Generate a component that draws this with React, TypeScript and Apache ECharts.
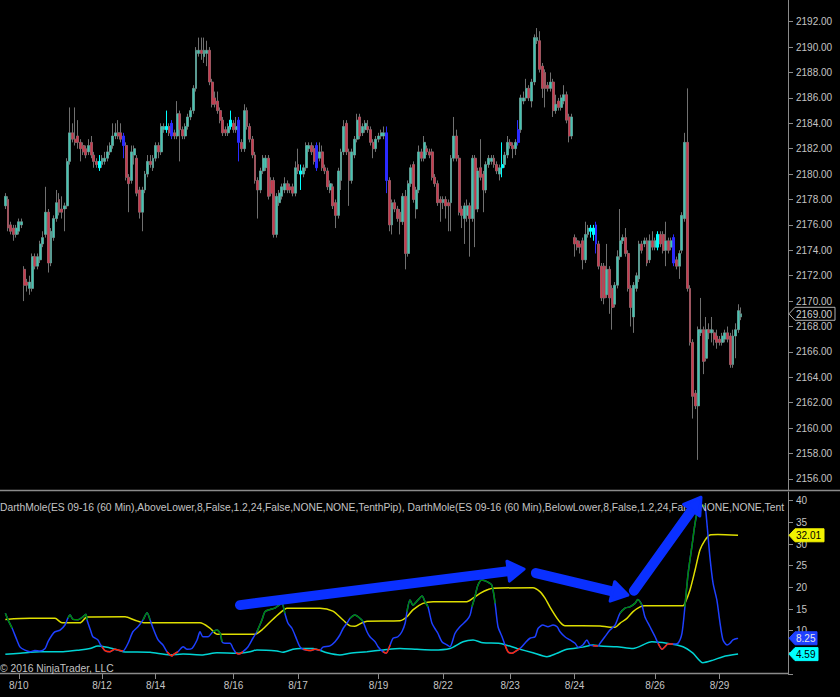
import React, { useEffect, useRef } from "react";
import * as echarts from "echarts";

// ---- price bars: [open, close, low, high] (ES 09-16, 60 min) ----
const candles: number[][] = [
  [2177.5, 2178.25, 2177.25, 2178.5], [2178.0, 2175.75, 2175.5, 2178.25], [2176.0, 2175.5, 2175.25, 2176.25],
  [2175.75, 2175.25, 2174.75, 2176.0], [2175.25, 2175.75, 2175.0, 2176.0], [2175.5, 2176.25, 2175.25, 2176.5],
  [2176.0, 2176.25, 2175.75, 2176.5], [2172.5, 2171.25, 2170.0, 2172.75], [2171.5, 2171.25, 2170.75, 2171.75],
  [2171.0, 2171.5, 2170.5, 2172.0], [2171.0, 2173.5, 2170.75, 2173.75], [2173.5, 2172.75, 2172.5, 2173.75],
  [2172.75, 2173.5, 2172.5, 2173.75], [2173.25, 2174.5, 2173.0, 2174.75], [2174.5, 2175.0, 2174.25, 2175.5],
  [2175.25, 2177.0, 2175.0, 2179.0], [2177.0, 2173.0, 2172.25, 2177.25], [2173.0, 2175.5, 2172.75, 2175.75],
  [2175.0, 2176.5, 2174.75, 2176.75], [2176.5, 2177.75, 2176.25, 2178.75], [2178.0, 2177.0, 2176.75, 2178.5],
  [2177.25, 2177.0, 2176.5, 2178.25], [2177.25, 2177.5, 2175.5, 2177.75], [2177.5, 2181.0, 2177.25, 2181.25],
  [2181.0, 2183.25, 2180.75, 2185.25], [2183.25, 2182.75, 2182.5, 2184.0], [2182.75, 2182.5, 2182.25, 2185.25],
  [2183.0, 2182.5, 2182.0, 2184.25], [2182.5, 2182.0, 2181.0, 2182.75], [2182.25, 2181.75, 2181.5, 2182.5],
  [2182.0, 2181.5, 2181.25, 2182.25], [2181.75, 2182.25, 2181.5, 2182.75], [2182.5, 2181.5, 2181.25, 2183.0],
  [2181.5, 2181.0, 2180.5, 2181.75], [2181.0, 2180.75, 2180.5, 2181.25], [2180.5, 2181.0, 2180.25, 2181.5],
  [2180.75, 2181.25, 2180.5, 2181.5], [2181.0, 2181.25, 2180.75, 2181.75], [2181.25, 2181.75, 2181.0, 2182.25],
  [2181.75, 2182.25, 2181.5, 2182.5], [2182.25, 2183.0, 2182.0, 2184.0], [2183.0, 2183.25, 2182.75, 2184.0],
  [2183.25, 2183.0, 2182.75, 2184.25], [2183.25, 2182.75, 2182.5, 2184.0], [2183.0, 2182.25, 2181.25, 2183.25],
  [2182.25, 2179.75, 2179.5, 2182.5], [2179.75, 2179.25, 2177.0, 2180.0], [2179.5, 2181.75, 2179.25, 2182.25],
  [2181.5, 2182.0, 2180.75, 2182.25], [2181.25, 2178.5, 2178.25, 2181.5], [2178.75, 2177.0, 2176.5, 2179.0],
  [2177.0, 2178.75, 2175.5, 2179.0], [2178.75, 2180.0, 2178.5, 2180.25], [2180.0, 2181.0, 2179.75, 2181.5],
  [2181.0, 2180.75, 2180.5, 2181.5], [2180.5, 2181.25, 2180.25, 2181.5], [2181.25, 2182.25, 2181.0, 2182.5],
  [2182.25, 2181.75, 2181.25, 2182.5], [2181.75, 2183.75, 2181.5, 2184.0], [2183.5, 2183.75, 2183.25, 2184.0],
  [2183.5, 2183.75, 2183.25, 2185.0], [2183.75, 2183.25, 2183.0, 2184.0], [2184.0, 2183.0, 2182.75, 2184.25],
  [2183.25, 2183.0, 2182.75, 2183.5], [2183.0, 2184.75, 2182.75, 2185.75], [2184.75, 2183.5, 2181.0, 2185.0],
  [2183.5, 2183.0, 2182.75, 2183.75], [2183.0, 2183.75, 2182.75, 2184.0], [2183.75, 2184.5, 2183.5, 2184.75],
  [2184.5, 2185.0, 2184.25, 2185.25], [2185.0, 2186.75, 2184.75, 2187.0], [2186.75, 2189.75, 2186.5, 2190.0],
  [2189.5, 2189.75, 2189.25, 2190.75], [2189.75, 2189.5, 2189.0, 2190.75], [2189.25, 2189.75, 2188.75, 2190.75],
  [2189.5, 2189.75, 2188.5, 2190.5], [2189.75, 2187.25, 2187.0, 2190.0], [2187.25, 2185.5, 2185.25, 2187.5],
  [2186.0, 2185.5, 2185.25, 2186.5], [2185.75, 2185.0, 2184.75, 2186.5], [2185.0, 2184.25, 2184.0, 2185.25],
  [2184.25, 2183.25, 2183.0, 2184.5], [2183.5, 2183.25, 2183.0, 2183.75], [2183.25, 2183.75, 2183.0, 2184.0],
  [2183.75, 2184.25, 2183.5, 2185.0], [2184.0, 2183.5, 2183.25, 2184.25], [2183.5, 2183.75, 2183.25, 2184.5],
  [2184.25, 2182.5, 2181.0, 2184.5], [2182.5, 2182.0, 2181.75, 2182.75], [2182.0, 2185.0, 2181.75, 2185.5],
  [2185.0, 2183.75, 2183.5, 2185.25], [2183.75, 2182.75, 2182.5, 2184.0], [2182.75, 2181.5, 2181.25, 2183.0],
  [2181.5, 2179.5, 2179.25, 2181.75], [2179.5, 2178.75, 2176.5, 2179.75], [2178.75, 2180.25, 2178.5, 2180.5],
  [2180.25, 2181.25, 2180.0, 2181.5], [2180.5, 2181.25, 2180.25, 2181.5], [2181.25, 2178.25, 2178.0, 2181.5],
  [2179.5, 2178.5, 2178.25, 2179.75], [2179.5, 2175.25, 2175.0, 2179.75], [2175.25, 2178.25, 2175.0, 2178.5],
  [2177.75, 2178.5, 2177.5, 2178.75], [2178.25, 2179.0, 2178.0, 2179.25], [2178.75, 2179.25, 2178.5, 2179.75],
  [2179.25, 2178.75, 2178.5, 2179.5], [2179.0, 2178.75, 2178.5, 2179.25], [2179.0, 2178.5, 2178.25, 2179.25],
  [2178.5, 2180.5, 2178.25, 2181.0], [2180.75, 2180.25, 2180.0, 2182.0], [2180.0, 2180.25, 2178.75, 2180.75],
  [2180.0, 2180.5, 2179.75, 2180.75], [2180.5, 2182.25, 2180.25, 2182.5], [2182.0, 2182.25, 2181.75, 2182.5],
  [2182.25, 2181.75, 2181.5, 2182.5], [2182.0, 2181.0, 2180.75, 2182.25], [2182.25, 2180.5, 2180.25, 2182.5],
  [2181.25, 2181.75, 2181.0, 2182.5], [2181.75, 2180.5, 2180.25, 2182.25], [2180.5, 2180.25, 2180.0, 2180.75],
  [2180.25, 2179.0, 2178.75, 2180.5], [2178.75, 2179.25, 2178.5, 2179.5], [2179.0, 2177.5, 2177.25, 2179.25],
  [2177.75, 2176.75, 2175.75, 2178.0], [2176.75, 2180.25, 2176.5, 2180.5], [2179.5, 2181.75, 2178.75, 2182.0],
  [2181.75, 2183.75, 2181.5, 2184.25], [2184.0, 2181.75, 2181.5, 2184.25], [2181.75, 2179.5, 2177.5, 2182.0],
  [2179.5, 2181.75, 2179.25, 2182.0], [2181.5, 2182.75, 2181.25, 2183.0], [2182.75, 2184.25, 2182.5, 2184.75],
  [2184.5, 2183.0, 2182.75, 2184.75], [2183.25, 2183.75, 2183.0, 2184.0], [2183.5, 2184.0, 2183.25, 2184.25],
  [2183.75, 2183.5, 2183.25, 2184.25], [2183.5, 2182.5, 2182.25, 2183.75], [2182.5, 2182.0, 2181.25, 2182.75],
  [2182.0, 2182.75, 2181.75, 2183.0], [2182.75, 2183.0, 2182.5, 2183.25], [2183.0, 2183.25, 2182.75, 2183.5],
  [2183.0, 2183.25, 2182.75, 2183.75], [2183.25, 2179.5, 2178.5, 2183.75], [2179.5, 2176.0, 2175.5, 2179.75],
  [2176.0, 2177.75, 2175.25, 2178.0], [2177.75, 2177.25, 2177.0, 2178.0], [2177.25, 2176.5, 2176.25, 2177.5],
  [2177.0, 2176.25, 2175.25, 2177.25], [2176.25, 2178.25, 2176.0, 2178.5], [2178.25, 2173.75, 2172.5, 2178.75],
  [2173.75, 2179.25, 2173.5, 2179.5], [2179.25, 2180.5, 2179.0, 2180.75], [2180.75, 2178.0, 2177.75, 2181.0],
  [2177.25, 2178.75, 2176.5, 2179.0], [2178.75, 2181.75, 2178.5, 2182.25], [2181.75, 2181.25, 2181.0, 2182.0],
  [2181.25, 2182.5, 2181.0, 2183.0], [2182.0, 2181.75, 2181.5, 2182.25], [2181.75, 2181.5, 2181.25, 2182.0],
  [2181.75, 2179.75, 2179.5, 2182.0], [2179.75, 2179.25, 2179.0, 2180.0], [2179.25, 2177.75, 2177.5, 2179.5],
  [2178.0, 2177.75, 2176.25, 2178.25], [2177.75, 2178.0, 2177.25, 2178.25], [2178.0, 2177.5, 2176.5, 2178.25],
  [2177.75, 2177.5, 2175.5, 2178.0], [2177.75, 2181.25, 2175.5, 2181.5], [2181.25, 2183.0, 2181.0, 2184.5],
  [2183.0, 2181.25, 2181.0, 2183.5], [2181.25, 2177.0, 2176.75, 2181.5], [2177.25, 2176.75, 2175.75, 2177.5],
  [2176.5, 2177.5, 2174.5, 2177.75], [2176.75, 2177.5, 2176.25, 2178.0], [2177.5, 2176.5, 2173.5, 2177.75],
  [2176.5, 2181.25, 2176.25, 2181.5], [2181.25, 2177.25, 2174.25, 2181.5], [2177.25, 2180.25, 2177.0, 2180.5],
  [2180.5, 2179.75, 2179.5, 2182.75], [2180.0, 2178.75, 2177.0, 2180.25], [2178.75, 2180.75, 2178.5, 2181.0],
  [2180.75, 2181.25, 2180.5, 2181.5], [2181.0, 2181.25, 2180.75, 2181.5], [2181.25, 2180.75, 2180.5, 2181.5],
  [2180.75, 2180.25, 2180.0, 2181.0], [2180.0, 2180.5, 2179.5, 2180.75], [2180.5, 2180.75, 2179.75, 2182.5],
  [2180.75, 2181.5, 2180.5, 2181.75], [2181.5, 2182.5, 2181.25, 2183.0], [2182.5, 2182.25, 2182.0, 2182.75],
  [2182.25, 2182.0, 2181.25, 2182.5], [2182.0, 2182.5, 2181.5, 2182.75], [2182.5, 2183.5, 2182.25, 2184.25],
  [2183.5, 2186.0, 2183.25, 2186.25], [2185.75, 2186.0, 2185.5, 2186.5], [2186.0, 2186.75, 2185.75, 2187.5],
  [2186.75, 2186.0, 2185.75, 2187.0], [2185.75, 2187.25, 2185.25, 2187.5], [2187.25, 2190.75, 2187.0, 2191.0],
  [2190.5, 2190.75, 2190.25, 2191.5], [2190.5, 2188.25, 2188.0, 2191.25], [2188.5, 2186.75, 2186.0, 2188.75],
  [2188.0, 2186.75, 2185.25, 2188.25], [2187.0, 2186.75, 2186.5, 2187.25], [2186.75, 2187.25, 2186.5, 2188.0],
  [2187.25, 2185.0, 2184.5, 2187.5], [2185.0, 2185.5, 2184.75, 2186.25], [2185.75, 2185.25, 2185.0, 2186.0],
  [2185.25, 2186.0, 2185.0, 2186.25], [2185.75, 2186.25, 2185.5, 2187.0], [2186.25, 2184.25, 2184.0, 2186.5],
  [2184.5, 2183.0, 2182.5, 2184.75], [2183.0, 2184.5, 2182.75, 2184.75], [2175.0, 2174.5, 2173.5, 2175.25],
  [2174.75, 2174.25, 2174.0, 2175.0], [2174.5, 2174.25, 2173.75, 2174.75], [2174.75, 2173.25, 2172.5, 2175.0],
  [2173.25, 2175.25, 2173.0, 2176.25], [2175.25, 2175.75, 2175.0, 2176.0], [2175.5, 2175.75, 2175.0, 2176.0],
  [2175.75, 2175.25, 2174.75, 2176.0], [2176.0, 2174.5, 2173.75, 2176.25], [2174.5, 2172.75, 2172.5, 2174.75],
  [2172.75, 2170.25, 2170.0, 2173.0], [2172.75, 2170.25, 2169.75, 2173.0], [2170.5, 2172.5, 2170.25, 2174.5],
  [2172.5, 2170.25, 2169.0, 2172.75], [2171.0, 2169.5, 2167.75, 2171.25], [2169.75, 2171.25, 2169.5, 2171.5],
  [2171.25, 2173.5, 2171.0, 2174.0], [2173.5, 2174.75, 2173.25, 2177.25], [2174.75, 2175.0, 2174.5, 2175.25],
  [2175.0, 2173.75, 2173.5, 2175.75], [2173.75, 2171.0, 2170.75, 2174.0], [2171.0, 2169.5, 2168.0, 2171.25],
  [2168.75, 2171.25, 2167.5, 2171.5], [2171.0, 2172.0, 2170.75, 2172.25], [2171.75, 2174.5, 2171.5, 2174.75],
  [2174.5, 2174.0, 2173.75, 2174.75], [2174.5, 2174.75, 2174.25, 2175.0], [2174.75, 2173.0, 2172.75, 2175.0],
  [2173.25, 2174.75, 2173.0, 2175.25], [2174.75, 2174.25, 2174.0, 2175.5], [2174.25, 2174.75, 2174.0, 2175.0],
  [2174.25, 2175.25, 2174.0, 2175.5], [2175.25, 2174.5, 2174.25, 2175.5], [2175.25, 2174.0, 2173.75, 2175.5],
  [2174.0, 2174.75, 2172.75, 2176.25], [2174.75, 2174.0, 2173.75, 2175.0], [2174.25, 2174.75, 2174.0, 2175.0],
  [2175.0, 2173.0, 2172.75, 2175.25], [2173.25, 2172.75, 2172.5, 2173.5], [2172.75, 2173.75, 2171.75, 2174.0],
  [2174.0, 2176.75, 2173.75, 2177.0], [2176.5, 2182.5, 2176.25, 2183.25], [2182.5, 2171.0, 2170.75, 2186.75],
  [2171.0, 2166.75, 2166.5, 2171.25], [2166.75, 2162.5, 2160.75, 2167.0], [2162.75, 2161.75, 2161.5, 2163.0],
  [2161.75, 2167.75, 2157.5, 2168.0], [2167.5, 2167.75, 2167.25, 2170.25], [2167.75, 2165.25, 2164.25, 2168.0],
  [2165.5, 2167.75, 2165.25, 2168.75], [2167.75, 2167.5, 2167.0, 2168.25], [2167.5, 2167.75, 2166.75, 2168.75],
  [2167.5, 2167.0, 2166.5, 2167.75], [2167.25, 2166.75, 2166.25, 2167.75], [2167.0, 2166.75, 2166.5, 2167.25],
  [2166.75, 2167.25, 2166.5, 2167.5], [2167.0, 2167.5, 2166.75, 2167.75], [2167.5, 2167.0, 2166.75, 2168.0],
  [2167.25, 2165.0, 2164.75, 2167.5], [2165.0, 2167.25, 2164.75, 2167.75], [2167.25, 2167.75, 2165.5, 2168.25],
  [2167.75, 2169.25, 2167.5, 2169.75], [2168.75, 2169.0, 2168.5, 2169.5],
];

// signal bars highlighted by the indicator (bar indices)
const cyanBars = [35, 60, 84, 110, 185, 218, 219, 243];
const blueBars = [44, 62, 87, 116, 142, 191, 220, 249];

// time slots on the axis (bars + empty right margin)
const slotCount = 292;
const dateTicks: [number, string][] = [
  [5, "8/10"], [36, "8/12"], [56, "8/14"], [85, "8/16"], [109, "8/17"], [139, "8/19"],
  [163, "8/22"], [188, "8/23"], [212, "8/24"], [242, "8/26"], [266, "8/29"],
];

// DarthMole main line: [bar index, value, colour state b=blue g=green r=red]
const moleLine: [number, number, string][] = [
  [0, 14.0, "g"], [1.0, 12.5, "g"], [2.5, 10.6, "b"], [4.3, 7.85, "b"], [5.5, 6.2, "b"], [7.3, 5.5, "b"],
  [9.2, 5.15, "b"], [11.0, 5.4, "b"], [12.9, 5.3, "b"], [14.8, 5.9, "b"], [15.9, 7.45, "b"], [17.4, 9.0, "b"],
  [18.5, 9.75, "b"], [20.4, 10.15, "b"], [22.2, 11.3, "b"], [23.3, 12.9, "g"], [24.1, 13.6, "g"], [25.2, 12.6, "g"],
  [27.1, 12.5, "g"], [28.9, 13.2, "g"], [30.0, 13.8, "g"], [30.4, 12.5, "b"], [31.9, 9.75, "b"], [32.6, 8.6, "b"],
  [34.5, 7.85, "b"], [35.3, 6.9, "b"], [36.0, 6.3, "r"], [37.1, 5.4, "r"], [39.0, 5.15, "r"], [40.8, 5.7, "r"],
  [42.7, 5.4, "r"], [43.8, 5.3, "b"], [45.7, 7.1, "b"], [47.5, 9.75, "b"], [49.4, 10.9, "b"], [51.3, 12.5, "g"],
  [52.8, 14.15, "g"], [53.9, 12.5, "b"], [55.0, 10.6, "b"], [56.9, 7.85, "b"], [58.7, 6.7, "b"], [60.2, 5.15, "r"],
  [62.1, 4.15, "r"], [62.4, 4.4, "r"], [64.3, 5.15, "b"], [66.2, 6.3, "b"], [67.7, 5.7, "b"], [69.5, 5.9, "b"],
  [71.4, 7.85, "b"], [72.5, 9.75, "b"], [73.6, 8.6, "b"], [75.5, 8.6, "b"], [77.3, 9.75, "g"], [78.8, 10.15, "g"],
  [80.0, 9.4, "g"], [80.7, 7.45, "b"], [81.8, 7.1, "b"], [83.7, 7.1, "b"], [84.8, 5.9, "b"], [85.9, 4.9, "r"],
  [87.0, 4.6, "r"], [88.5, 5.15, "b"], [90.4, 6.3, "b"], [92.2, 8.25, "b"], [93.7, 9.75, "g"], [95.6, 12.5, "g"],
  [96.7, 14.4, "g"], [98.6, 14.9, "g"], [100.4, 15.2, "g"], [101.5, 15.7, "g"], [103.0, 16.3, "g"], [104.1, 14.0, "b"],
  [105.3, 11.7, "b"], [106.8, 10.5, "b"], [108.6, 7.85, "b"], [109.7, 6.3, "b"], [110.9, 5.7, "r"], [113.5, 5.4, "r"],
  [115.3, 5.7, "r"], [117.2, 5.5, "b"], [118.3, 6.2, "b"], [120.9, 6.5, "b"], [122.8, 7.45, "b"], [124.6, 9.0, "b"],
  [125.8, 10.5, "b"], [127.2, 11.7, "b"], [128.4, 12.85, "g"], [130.2, 13.6, "g"], [132.1, 12.85, "g"], [133.2, 12.1, "b"],
  [134.7, 9.75, "b"], [135.8, 8.6, "b"], [137.7, 7.45, "b"], [138.8, 6.3, "b"], [140.6, 5.15, "r"], [141.8, 4.8, "r"],
  [143.3, 6.7, "b"], [144.4, 8.25, "b"], [146.2, 8.6, "b"], [147.7, 9.75, "b"], [148.9, 11.7, "b"], [149.6, 14.4, "g"],
  [150.7, 17.1, "g"], [151.8, 15.9, "g"], [153.7, 17.1, "g"], [155.2, 18.0, "g"], [156.3, 16.7, "g"], [157.4, 15.5, "b"],
  [158.9, 11.7, "b"], [160.0, 10.5, "b"], [161.1, 9.4, "b"], [162.6, 7.45, "b"], [164.5, 6.7, "b"], [165.6, 6.3, "b"],
  [167.5, 9.4, "b"], [169.3, 10.9, "b"], [172.0, 12.5, "b"], [173.1, 13.6, "b"], [173.8, 15.5, "g"], [174.9, 17.8, "g"],
  [176.0, 20.5, "g"], [177.5, 21.7, "g"], [179.4, 21.3, "g"], [181.2, 20.5, "g"], [182.4, 16.3, "b"], [183.5, 10.9, "b"],
  [185.0, 8.6, "b"], [186.1, 6.7, "r"], [187.2, 5.15, "r"], [188.7, 4.8, "r"], [189.8, 5.15, "r"], [191.7, 5.9, "b"],
  [193.5, 7.1, "b"], [195.4, 8.25, "b"], [197.3, 8.6, "b"], [198.4, 10.5, "b"], [200.2, 11.3, "b"], [202.1, 10.9, "b"],
  [204.0, 11.3, "b"], [205.5, 10.9, "b"], [206.6, 9.75, "b"], [208.4, 8.6, "b"], [210.3, 7.85, "b"], [212.2, 7.1, "b"],
  [213.3, 6.2, "b"], [215.1, 6.7, "b"], [216.6, 7.85, "b"], [217.7, 6.7, "b"], [218.9, 6.5, "r"], [220.7, 6.45, "b"],
  [221.5, 7.1, "b"], [223.3, 8.6, "b"], [225.2, 10.15, "b"], [227.1, 11.3, "b"], [228.9, 14.0, "g"], [230.8, 15.2, "g"],
  [232.6, 15.5, "g"], [234.5, 16.3, "g"], [235.6, 17.2, "g"], [237.1, 15.9, "b"], [238.2, 13.2, "b"], [240.1, 10.9, "b"],
  [242.0, 8.6, "b"], [243.1, 7.1, "r"], [244.6, 5.7, "r"], [245.7, 6.3, "r"], [246.8, 6.9, "r"], [248.7, 6.9, "b"],
  [250.5, 7.1, "b"], [252.0, 9.4, "b"], [253.1, 15.5, "g"], [254.3, 23.2, "g"], [255.7, 29.4, "g"], [256.9, 34.8, "g"],
  [258.0, 38.2, "g"], [259.5, 39.0, "g"], [260.6, 38.6, "b"], [261.3, 34.8, "b"], [262.4, 27.1, "b"], [263.6, 20.9, "b"],
  [265.0, 17.1, "b"], [266.2, 11.7, "b"], [267.3, 7.85, "b"], [268.8, 6.7, "b"], [269.9, 7.1, "b"], [271.0, 7.85, "b"],
  [272.9, 8.25, "b"],
];

// upper band (yellow): [bar index, value]
const yellowLine: [number, number][] = [
  [0, 12.6], [9.2, 12.85], [18.5, 12.85], [21.1, 11.8], [27.8, 11.8], [30.4, 13.15], [44.6, 13.2], [48.3, 12.4],
  [52.0, 11.8], [72.5, 11.8], [76.2, 10.6], [78.8, 9.2], [93.0, 9.2], [95.6, 10.2], [98.6, 12.0], [102.3, 14.1],
  [104.9, 15.2], [117.2, 15.2], [122.0, 14.5], [125.8, 12.45], [128.4, 11.1], [130.2, 11.0], [132.8, 11.8],
  [134.7, 12.2], [147.0, 12.3], [149.6, 13.2], [151.8, 14.8], [155.5, 16.3], [159.3, 16.7], [171.9, 16.7],
  [174.2, 17.5], [176.8, 18.6], [179.8, 19.5], [181.6, 19.8], [196.5, 19.9], [199.1, 19.0], [201.0, 17.5],
  [202.8, 15.5], [205.5, 12.85], [207.3, 11.5], [208.4, 11.15], [221.5, 11.1], [225.2, 10.8], [227.1, 10.8],
  [228.9, 11.7], [231.5, 12.85], [233.8, 14.4], [236.4, 15.5], [238.2, 15.75], [252.4, 15.75], [253.1, 16.3],
  [255.0, 19.4], [256.9, 24.0], [258.7, 28.6], [260.6, 30.9], [262.4, 32.1], [265.4, 32.2], [272.9, 32.01],
];

// lower band (cyan): [bar index, value]
const cyanLine: [number, number][] = [
  [0, 4.55], [5.5, 4.8], [12.9, 5.15], [21.5, 5.15], [27.8, 5.55], [31.5, 5.9], [34.5, 6.45], [37.9, 6.15],
  [40.8, 5.7], [43.8, 5.15], [53.9, 5.0], [61.3, 4.4], [66.2, 4.6], [73.6, 4.4], [78.8, 4.9], [86.3, 4.8],
  [91.1, 5.15], [93.7, 5.55], [101.2, 5.3], [103.4, 5.0], [107.1, 5.7], [109.7, 5.9], [114.6, 5.9], [119.8, 4.9],
  [124.6, 4.4], [128.4, 4.8], [134.7, 5.15], [140.7, 5.55], [147.0, 5.9], [153.3, 5.7], [159.3, 5.55],
  [165.6, 5.9], [170.5, 7.45], [174.2, 7.85], [177.9, 7.2], [184.3, 7.05], [190.6, 5.9], [196.5, 4.9],
  [201.7, 4.0], [205.5, 4.8], [209.2, 5.7], [215.1, 6.2], [218.9, 6.7], [221.5, 6.45], [227.8, 6.3],
  [233.8, 5.9], [240.8, 7.45], [246.4, 7.1], [252.4, 6.3], [256.1, 4.8], [259.8, 2.6], [263.6, 3.2],
  [267.3, 4.0], [272.9, 4.59],
];

// hand-drawn annotation arrows: [[start bar, start value], [tip bar, tip value]]
const arrows: number[][][] = [
  [[87.4, 15.9], [193.2, 24.2]],
  [[197.6, 23.3], [231.9, 18.2]],
  [[234.1, 19.2], [259.1, 40.8]],
];

const indicatorTitle =
  "DarthMole(ES 09-16 (60 Min),AboveLower,8,False,1.2,24,False,NONE,NONE,TenthPip), DarthMole(ES 09-16 (60 Min),BelowLower,8,False,1.2,24,False,NONE,NONE,TenthPip)";
const copyright = "© 2016 NinjaTrader, LLC";

const FONT = "'Liberation Sans', Arial, sans-serif";
const TXT = "#c4c4c4";
const AXIS = "#8a8a8a";
const UP = "#44c4b2";
const DOWN = "#c83a4e";
const WICK = "#707070";
const SIG_BLUE = "#2a2aff";
const SIG_CYAN = "#00ffff";
const ARROW = "#0a30ff";

function segment(state: string) {
  return moleLine.map((p, i) => {
    const prev = i > 0 ? moleLine[i - 1][2] : "";
    return p[2] === state || prev === state ? [p[0], p[1]] : [p[0], null];
  });
}

export default function App() {
  const ref = useRef<HTMLDivElement>(null);
  useEffect(() => {
    if (!ref.current) return;
    const chart = echarts.init(ref.current, null, { renderer: "svg" });
    const slots = Array.from({ length: slotCount }, (_, i) => String(i));
    const labels = Array.from({ length: slotCount }, () => "");
    dateTicks.forEach(([i, t]) => (labels[i] = t));

    const special = (i: number) =>
      cyanBars.includes(i) ? SIG_CYAN : blueBars.includes(i) ? SIG_BLUE : null;

    const wickData = candles.map((c, i) => {
      const s = special(i);
      return s
        ? { value: c, itemStyle: { color: s, color0: s, borderColor: s, borderColor0: s } }
        : c;
    });
    const bodyData = candles.map((c, i) => {
      const v = [c[0], c[1], Math.min(c[0], c[1]), Math.max(c[0], c[1])];
      const s = special(i);
      return s ? { value: v, itemStyle: { color: s, color0: s } } : v;
    });

    const lineBase = {
      type: "line",
      xAxisIndex: 2,
      yAxisIndex: 1,
      showSymbol: false,
      symbol: "none",
      smooth: 0.25,
      connectNulls: false,
    };

    const option: any = {
      backgroundColor: "#000000",
      animation: false,
      grid: [
        { left: 4, right: 52, top: 0, height: 490 },
        { left: 4, right: 52, top: 492, height: 182 },
      ],
      xAxis: [
        { type: "category", gridIndex: 0, data: slots, boundaryGap: true, show: false, axisLine: { onZero: false } },
        {
          type: "category",
          gridIndex: 1,
          data: labels,
          boundaryGap: true,
          axisLine: { show: false, onZero: false },
          axisTick: {
            show: true,
            alignWithLabel: true,
            interval: (_i: number, v: string) => v !== "",
            length: 5,
            lineStyle: { color: AXIS },
          },
          axisLabel: {
            interval: (_i: number, v: string) => v !== "",
            color: TXT,
            fontSize: 10,
            fontFamily: FONT,
            margin: 6,
          },
          splitLine: { show: false },
        },
        {
          type: "value",
          gridIndex: 1,
          min: -0.5,
          max: slotCount - 0.5,
          show: false,
          axisLine: { show: false, onZero: false },
          axisTick: { show: false },
          axisLabel: { show: false },
          splitLine: { show: false },
        },
      ],
      yAxis: [
        {
          type: "value",
          gridIndex: 0,
          position: "right",
          min: 2155.126,
          max: 2193.709,
          splitNumber: 19,
          minInterval: 2,
          maxInterval: 2,
          scale: true,
          axisLine: { show: true, onZero: false, lineStyle: { color: AXIS, width: 1 } },
          axisTick: { show: true, length: 5, lineStyle: { color: AXIS } },
          splitLine: { show: false },
          axisLabel: {
            color: TXT,
            fontSize: 10,
            fontFamily: FONT,
            margin: 8,
            showMinLabel: false,
            showMaxLabel: false,
            formatter: (v: number) => v.toFixed(2),
          },
        },
        {
          type: "value",
          gridIndex: 1,
          position: "right",
          min: 0,
          max: 42,
          interval: 5,
          axisLine: { show: true, onZero: false, lineStyle: { color: AXIS, width: 1 } },
          axisTick: { show: true, length: 5, lineStyle: { color: AXIS } },
          splitLine: { show: false },
          axisLabel: {
            color: TXT,
            fontSize: 10,
            fontFamily: FONT,
            margin: 8,
            showMaxLabel: false,
            formatter: (v: number) => (v >= 10 && v <= 40 ? String(v) : ""),
          },
        },
      ],
      series: [
        {
          type: "candlestick",
          xAxisIndex: 0,
          yAxisIndex: 0,
          data: wickData,
          barWidth: 2.4,
          itemStyle: { color: WICK, color0: WICK, borderColor: WICK, borderColor0: WICK, borderWidth: 1 },
        },
        {
          type: "candlestick",
          xAxisIndex: 0,
          yAxisIndex: 0,
          data: bodyData,
          barWidth: 2.4,
          itemStyle: { color: UP, color0: DOWN, borderColor: UP, borderColor0: DOWN, borderWidth: 0 },
        },
        { ...lineBase, data: cyanLine, lineStyle: { color: "#00d4d4", width: 1.5 } },
        { ...lineBase, data: yellowLine, lineStyle: { color: "#dede00", width: 1.5 } },
        { ...lineBase, data: moleLine.map((p) => [p[0], p[1]]), lineStyle: { color: "#1e40ff", width: 1.5 } },
        { ...lineBase, data: segment("g"), lineStyle: { color: "#008a00", width: 1.5 } },
        { ...lineBase, data: segment("r"), lineStyle: { color: "#ff2a00", width: 1.5 } },
      ],
    };
    chart.setOption(option);

    // ---- overlay graphics derived through the chart's own scales ----
    const g: any[] = [];
    g.push({ type: "line", shape: { x1: 0, y1: 490.5, x2: 840, y2: 490.5 }, style: { stroke: AXIS, lineWidth: 1.5 }, z: 50 });
    g.push({ type: "line", shape: { x1: 0, y1: 673.5, x2: 788, y2: 673.5 }, style: { stroke: AXIS, lineWidth: 1.5 }, z: 50 });
    g.push({
      type: "text",
      x: 0,
      y: 507,
      z: 60,
      style: {
        text: indicatorTitle,
        fill: TXT,
        fontSize: 10.3,
        fontFamily: FONT,
        verticalAlign: "middle",
        width: 788,
        overflow: "truncate",
        ellipsis: "",
      },
    });
    g.push({
      type: "text",
      x: 0,
      y: 668,
      z: 60,
      style: { text: copyright, fill: TXT, fontSize: 10.3, fontFamily: FONT, verticalAlign: "middle" },
    });

    const lineSeriesIdx = 3;
    arrows.forEach(([a, b]) => {
      const p0 = chart.convertToPixel({ seriesIndex: lineSeriesIdx }, a) as number[];
      const p1 = chart.convertToPixel({ seriesIndex: lineSeriesIdx }, b) as number[];
      const dx = p1[0] - p0[0];
      const dy = p1[1] - p0[1];
      const len = Math.hypot(dx, dy);
      const ux = dx / len;
      const uy = dy / len;
      const nx = -uy;
      const ny = ux;
      const headLen = 16;
      const headW = 10;
      const bx = p1[0] - ux * headLen;
      const by = p1[1] - uy * headLen;
      g.push({
        type: "line",
        z: 70,
        shape: { x1: p0[0], y1: p0[1], x2: bx + ux * 2, y2: by + uy * 2 },
        style: { stroke: ARROW, lineWidth: 10, lineCap: "round" },
      });
      g.push({
        type: "polygon",
        z: 70,
        shape: {
          points: [
            [p1[0], p1[1]],
            [bx + nx * headW, by + ny * headW],
            [bx - nx * headW, by - ny * headW],
          ],
        },
        style: { fill: ARROW, stroke: ARROW, lineWidth: 3, lineJoin: "round" },
      });
    });

    const tag = (y: number, text: string, fill: string, stroke: string, color: string, w: number) => {
      const x0 = 789;
      g.push({
        type: "polygon",
        z: 80,
        shape: {
          points: [
            [x0, y],
            [x0 + 6, y - 6.5],
            [x0 + w, y - 6.5],
            [x0 + w, y + 6.5],
            [x0 + 6, y + 6.5],
          ],
        },
        style: { fill, stroke, lineWidth: 1 },
      });
      g.push({
        type: "text",
        z: 81,
        x: x0 + 7,
        y: y + 0.5,
        style: { text, fill: color, fontSize: 10, fontFamily: FONT, verticalAlign: "middle" },
      });
    };
    const last = candles[candles.length - 1][1];
    const yPrice = chart.convertToPixel({ yAxisIndex: 0 }, last) as number;
    tag(yPrice, last.toFixed(2), "#000000", "#b0b0b0", "#d0d0d0", 46);
    const yY = yellowLine[yellowLine.length - 1][1];
    tag(chart.convertToPixel({ yAxisIndex: 1 }, yY) as number, yY.toFixed(2), "#f2f200", "#f2f200", "#000000", 35);
    const mY = moleLine[moleLine.length - 1][1];
    tag(chart.convertToPixel({ yAxisIndex: 1 }, mY) as number, mY.toFixed(2), "#1e40ff", "#1e40ff", "#e8e8e8", 28);
    const cY = cyanLine[cyanLine.length - 1][1];
    tag(chart.convertToPixel({ yAxisIndex: 1 }, cY) as number, cY.toFixed(2), "#00ffff", "#00ffff", "#000000", 29);

    chart.setOption({ graphic: g });
    return () => chart.dispose();
  }, []);

  return <div ref={ref} style={{ width: 840, height: 697, position: "absolute", left: 0, top: 0 }} />;
}
